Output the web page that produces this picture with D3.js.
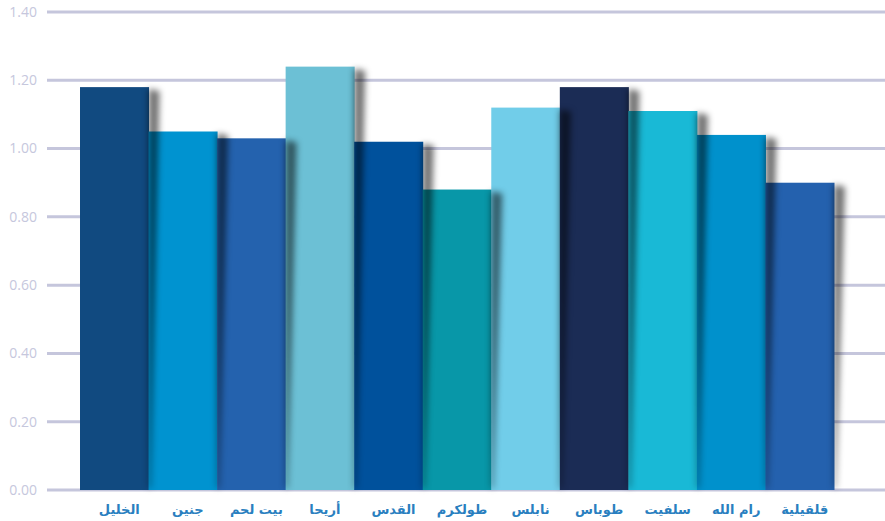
<!DOCTYPE html>
<html>
<head>
<meta charset="utf-8">
<script src="https://cdn.jsdelivr.net/npm/d3@7"></script>
<style>
  body { margin: 0; background: #fff; }
  svg { display: block; }
</style>
</head>
<body>
<div id="chart"></div>
<script>
// governorates, left to right as in the picture
var cities = ["الخليل", "جنين", "بيت لحم", "أريحا", "القدس", "طولكرم", "نابلس", "طوباس", "سلفيت", "رام الله", "قلقيلية"]
var values = [1.18, 1.05, 1.03, 1.24, 1.02, 0.88, 1.12, 1.18, 1.11, 1.04, 0.90]
var barColors = ["#114a80", "#0093d0", "#2462ae", "#6cc0d5", "#00519c", "#0897a8", "#71cde9", "#1b2c55", "#19b9d6", "#0091cc", "#2461ae"]
var yTicks = [0, 0.2, 0.4, 0.6, 0.8, 1.0, 1.2, 1.4]

var width = 885, height = 521

var svg = d3.select("#chart")
    .append("svg")
    .attr("width", width)
    .attr("height", height)

var x = d3.scaleBand()
    .domain(cities)
    .range([80, 834])
    .padding(0)

var y = d3.scaleLinear()
    .domain([0, 1.4])
    .range([490, 12])

var defs = svg.append("defs")
defs.append("filter")
    .attr("id", "blur")
    .attr("x", "-50%").attr("y", "-10%")
    .attr("width", "200%").attr("height", "120%")
    .append("feGaussianBlur")
    .attr("stdDeviation", 3)

// grid lines + tick labels
var grid = svg.append("g")
grid.selectAll("line")
    .data(yTicks)
    .enter()
    .append("line")
    .attr("x1", 47)
    .attr("x2", width)
    .attr("y1", (d) => y(d))
    .attr("y2", (d) => y(d))
    .style("stroke", "#c5c6dc")
    .style("stroke-width", 3)

grid.selectAll("text")
    .data(yTicks)
    .enter()
    .append("text")
    .attr("x", 37)
    .attr("y", (d) => y(d))
    .attr("dy", "0.35em")
    .attr("text-anchor", "end")
    .style("font-family", "'Open Sans', sans-serif")
    .style("font-size", "14px")
    .style("fill", "#c6c7dd")
    .text((d) => d3.format(".2f")(d))

// bars
var data = cities.map((c, i) => ({ city: c, value: values[i], color: barColors[i] }))

svg.append("g")
    .selectAll("rect")
    .data(data)
    .enter()
    .append("rect")
    .attr("x", (d) => x(d.city))
    .attr("y", (d) => y(d.value))
    .attr("width", x.bandwidth() + 0.5)
    .attr("height", (d) => y(0) - y(d.value))
    .style("fill", (d) => d.color)

// skewed soft shadow on the right side of each bar
svg.append("g")
    .attr("filter", "url(#blur)")
    .selectAll("path")
    .data(data)
    .enter()
    .append("path")
    .attr("d", (d) => {
        var xr = x(d.city) + x.bandwidth()
        var top = y(d.value)
        var bot = y(0)
        return `M${xr},${top + 2} L${xr + 11},${top + 4} L${xr + 2},${bot - 2} L${xr},${bot - 2} Z`
    })
    .style("fill", "#000")
    .style("opacity", 0.55)

// category labels
svg.append("g")
    .selectAll("text")
    .data(cities)
    .enter()
    .append("text")
    .attr("x", (d) => x(d) + x.bandwidth() / 2 + 5)
    .attr("y", 509)
    .attr("dy", "0.35em")
    .attr("text-anchor", "middle")
    .style("font-family", "'DejaVu Sans', sans-serif")
    .style("font-weight", "bold")
    .style("font-size", "13px")
    .style("fill", "#2a7fc0")
    .text((d) => d)
</script>
</body>
</html>
